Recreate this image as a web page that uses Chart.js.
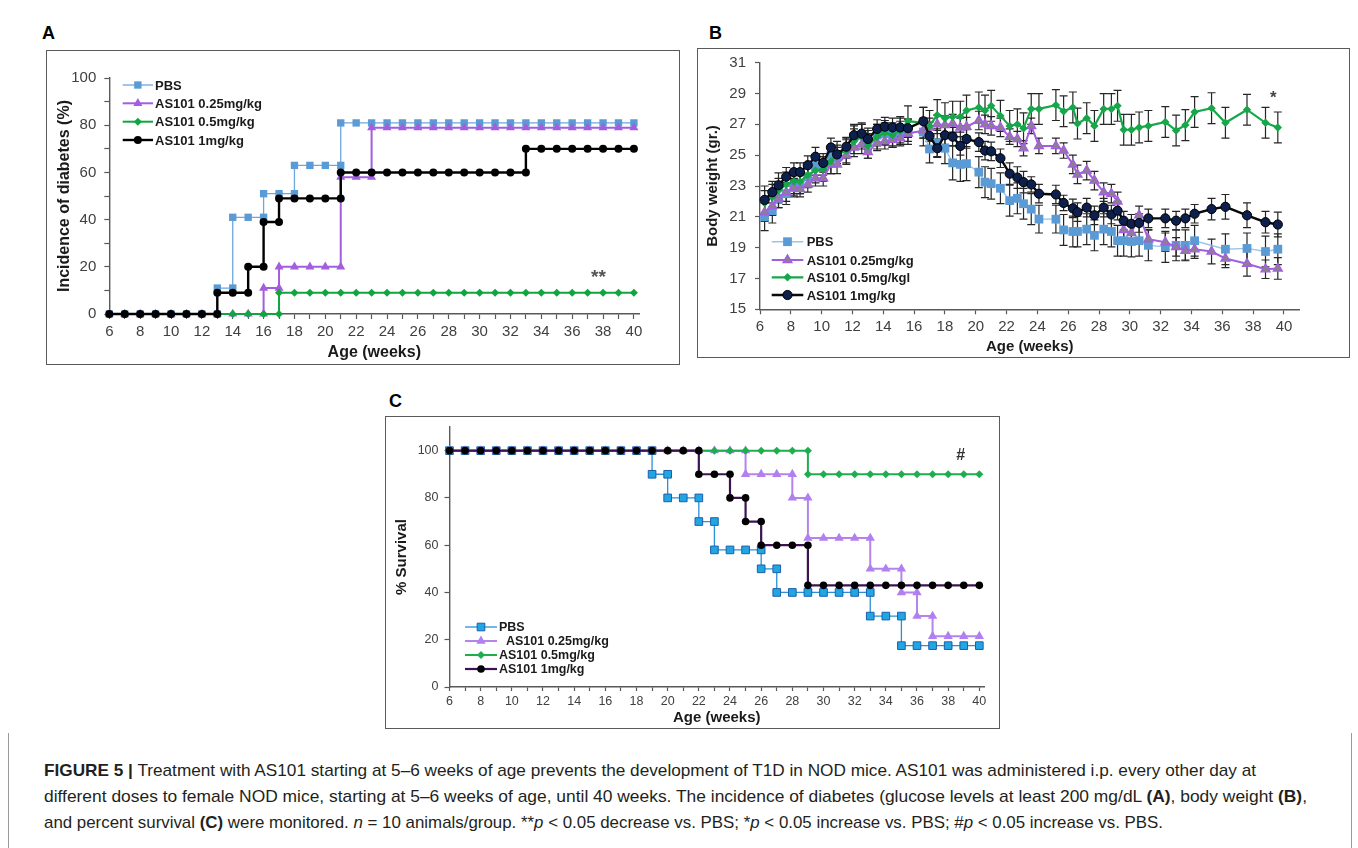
<!DOCTYPE html>
<html>
<head>
<meta charset="utf-8">
<script src="https://cdn.jsdelivr.net/npm/chart.js@4/dist/chart.umd.min.js"></script>
<style>
    html, body { margin: 0; padding: 0; background: #fff; }
    body { width: 1358px; height: 848px; position: relative; overflow: hidden; font-family: "Liberation Sans", Arial, sans-serif; }
    .box { position: absolute; border: 1.5px solid #5a5a5a; box-sizing: border-box; }
    .panel { position: absolute; font: bold 18px "Liberation Sans", Arial, sans-serif; color: #000; }
    canvas { position: absolute; }
    .frame { position: absolute; border-left: 1.5px solid #9a9a9a; border-right: 1.5px solid #9a9a9a; box-sizing: border-box; }
    .cap { position: absolute; left: 44px; font-size: 17px; line-height: 20px; color: #231f20; white-space: nowrap; transform-origin: 0 50%; }
</style>
</head>
<body>
<div class="frame" style="left:8px;top:733px;width:1344px;height:115px"></div>

<div class="panel" style="left:42px;top:23px">A</div>
<div class="box" style="left:46px;top:50px;width:634px;height:315px"></div>
<canvas id="chartA" width="628" height="312" style="left:48px;top:52px;width:628px;height:312px"></canvas>

<div class="panel" style="left:709px;top:23px">B</div>
<div class="box" style="left:697px;top:48px;width:653px;height:310px"></div>
<canvas id="chartB" width="645" height="319" style="left:700px;top:38px;width:645px;height:319px"></canvas>

<div class="panel" style="left:389px;top:391px">C</div>
<div class="box" style="left:385px;top:416px;width:615px;height:313px"></div>
<canvas id="chartC" width="608" height="320" style="left:388px;top:408px;width:608px;height:320px"></canvas>

<div class="cap" data-w="1212" style="top:761px"><b>FIGURE 5 |</b> Treatment with AS101 starting at 5–6 weeks of age prevents the development of T1D in NOD mice. AS101 was administered i.p. every other day at</div>
<div class="cap" data-w="1263" style="top:787px">different doses to female NOD mice, starting at 5–6 weeks of age, until 40 weeks. The incidence of diabetes (glucose levels at least 200 mg/dL <b>(A)</b>, body weight <b>(B)</b>,</div>
<div class="cap" data-w="1119" style="top:813px">and percent survival <b>(C)</b> were monitored. <i>n</i> = 10 animals/group. **<i>p</i> &lt; 0.05 decrease vs. PBS; *<i>p</i> &lt; 0.05 increase vs. PBS; #<i>p</i> &lt; 0.05 increase vs. PBS.</div>

<script>
// ---------- data ----------
const groupLabels = ['PBS', 'AS101 0.25mg/kg', 'AS101 0.5mg/kg', 'AS101 1mg/kg'];

// A: incidence of diabetes (%), step points repeated at each change
const pbsIncWeeks = [6, 7, 8, 9, 10, 11, 12, 13, 13, 14, 14, 15, 16, 16, 17, 18, 18, 19, 20, 21, 21, 22, 23, 24, 25, 26, 27, 28, 29, 30, 31, 32, 33, 34, 35, 36, 37, 38, 39, 40];
const pbsIncidence = [0, 0, 0, 0, 0, 0, 0, 0, 11, 11, 41, 41, 41, 51, 51, 51, 63, 63, 63, 63, 81, 81, 81, 81, 81, 81, 81, 81, 81, 81, 81, 81, 81, 81, 81, 81, 81, 81, 81, 81];
const lowIncWeeks = [6, 7, 8, 9, 10, 11, 12, 13, 14, 15, 16, 16, 17, 17, 18, 19, 20, 21, 21, 22, 23, 23, 24, 25, 26, 27, 28, 29, 30, 31, 32, 33, 34, 35, 36, 37, 38, 39, 40];
const lowIncidence = [0, 0, 0, 0, 0, 0, 0, 0, 0, 0, 0, 11, 11, 20, 20, 20, 20, 20, 58, 58, 58, 79, 79, 79, 79, 79, 79, 79, 79, 79, 79, 79, 79, 79, 79, 79, 79, 79, 79];
const midIncWeeks = [6, 7, 8, 9, 10, 11, 12, 13, 14, 15, 16, 17, 17, 18, 19, 20, 21, 22, 23, 24, 25, 26, 27, 28, 29, 30, 31, 32, 33, 34, 35, 36, 37, 38, 39, 40];
const midIncidence = [0, 0, 0, 0, 0, 0, 0, 0, 0, 0, 0, 0, 9, 9, 9, 9, 9, 9, 9, 9, 9, 9, 9, 9, 9, 9, 9, 9, 9, 9, 9, 9, 9, 9, 9, 9];
const highIncWeeks = [6, 7, 8, 9, 10, 11, 12, 13, 13, 14, 15, 15, 16, 16, 17, 17, 18, 19, 20, 21, 21, 22, 23, 24, 25, 26, 27, 28, 29, 30, 31, 32, 33, 33, 34, 35, 36, 37, 38, 39, 40];
const highIncidence = [0, 0, 0, 0, 0, 0, 0, 0, 9, 9, 9, 20, 20, 39, 39, 49, 49, 49, 49, 49, 60, 60, 60, 60, 60, 60, 60, 60, 60, 60, 60, 60, 60, 70, 70, 70, 70, 70, 70, 70, 70];

// B: body weight (gr.), mean and error (half bar)
const weeksB = [6.3, 6.8, 7.2, 7.7, 8.2, 8.6, 9.1, 9.6, 10.1, 10.6, 11.0, 11.6, 12.1, 12.6, 13.0, 13.6, 14.1, 14.6, 15.1, 15.6, 16.6, 17.0, 17.5, 18.0, 18.5, 19.0, 19.4, 20.2, 20.6, 21.0, 21.6, 22.2, 22.7, 23.1, 23.6, 24.1, 25.2, 25.7, 26.3, 26.6, 27.2, 27.7, 28.3, 28.8, 29.2, 29.6, 30.1, 30.6, 31.2, 32.3, 33.0, 33.6, 34.2, 35.3, 36.2, 37.6, 38.8, 39.6];
const pbsWeight = [21.0, 21.4, 22.2, 22.5, 22.9, 23.1, 23.6, 24.3, 24.3, 25.0, 24.9, 25.4, 26.2, 26.3, 25.9, 26.3, 26.4, 26.3, 26.5, 26.5, 26.5, 25.4, 25.8, 25.45, 24.5, 24.4, 24.45, 23.9, 23.25, 23.15, 22.85, 22.05, 22.2, 21.85, 21.5, 20.85, 20.85, 20.15, 20.05, 20.05, 20.2, 19.8, 20.2, 20.05, 19.45, 19.45, 19.4, 19.45, 19.15, 19.05, 19.15, 19.15, 19.45, null, 18.9, 18.95, 18.75, 18.9];
const lowWeight = [21.3, 21.7, 22.2, 22.6, 22.9, 22.8, 23.1, 23.5, 23.5, 24.4, 24.4, 25.0, 25.5, 25.7, 25.2, 25.8, 25.9, 26.0, 26.1, 26.4, 26.6, 26.8, 27.0, 26.95, 27.05, 26.8, 26.85, 27.25, 27.0, 26.9, 26.8, 26.2, 26.05, 25.45, 26.9, 25.6, 25.6, 25.3, 24.4, 23.75, 24.0, 23.35, 22.6, 22.5, 22.0, 20.15, 19.95, 21.1, 19.55, 19.35, 19.05, 18.8, 18.9, 18.75, 18.3, 17.95, 17.6, 17.65];
const midWeight = [21.9, 22.3, 22.7, 23.1, 23.3, 23.3, 23.7, 24.0, 24.1, 24.6, 25.1, 25.3, 25.9, 26.2, 25.6, 26.2, 26.45, 26.3, 26.6, 27.2, 27.1, 26.9, 27.6, 27.4, 27.5, 27.5, 27.9, 28.1, 27.9, 28.2, 27.55, 26.9, 27.0, 26.75, 28.0, 28.0, 28.25, 27.85, 28.1, 27.05, 27.4, 26.9, 28.0, 28.0, 28.2, 26.65, 26.65, 26.8, 26.9, 27.15, 26.6, 26.95, 27.8, 28.05, 27.1, 27.95, 27.1, 26.8];
const highWeight = [22.1, 22.6, 23.05, 23.6, 23.9, 23.9, 24.35, 24.9, 24.5, 25.5, 25.05, 25.55, 26.3, 26.4, 26.05, 26.7, 26.85, 26.8, 26.8, 26.75, 27.2, 26.25, 25.45, 26.3, 26.2, 25.6, 26.05, 25.85, 25.3, 25.25, 24.8, 23.8, 23.55, 23.25, 23.1, 22.5, 22.45, 21.9, 21.55, 21.3, 21.6, 21.1, 21.6, 21.15, 21.4, 20.75, 20.55, 20.6, 20.9, 20.9, 20.75, 20.9, 21.2, 21.5, 21.65, 21.1, 20.65, 20.5];
const pbsWeightErr = [0.9, 0.8, 0.6, 0.7, 0.6, 0.6, 0.6, 0.6, 0.6, 0.6, 0.6, 0.6, 0.7, 0.7, 0.7, 0.7, 0.7, 0.7, 0.7, 0.8, 0.9, 0.9, 0.9, 1.0, 1.1, 1.1, 1.1, 1.0, 1.0, 1.0, 1.0, 1.0, 1.0, 1.0, 1.0, 0.9, 0.9, 1.0, 1.0, 1.0, 1.0, 1.0, 1.0, 1.0, 1.0, 1.0, 1.0, 1.0, 1.0, 1.0, 1.0, 1.0, 1.0, null, 1.0, 1.0, 1.0, 1.0];
const lowWeightErr = [0.6, 0.6, 0.6, 0.6, 0.5, 0.5, 0.5, 0.5, 0.5, 0.6, 0.6, 0.6, 0.6, 0.6, 0.4, 0.5, 0.5, 0.5, 0.5, 0.5, 0.5, 0.6, 0.6, 0.6, 0.6, 0.6, 0.6, 0.6, 0.6, 0.6, 0.6, 0.5, 0.5, 0.5, 0.5, 0.5, 0.5, 0.5, 0.6, 0.6, 0.6, 0.6, 0.6, 0.6, 0.6, 0.6, 0.6, 0.6, 0.6, 0.6, 0.6, 0.6, 0.6, 0.8, 0.6, 0.8, 0.6, 0.7];
const midWeightErr = [0.8, 0.8, 0.8, 0.8, 0.8, 0.8, 0.8, 0.8, 0.8, 0.8, 0.8, 0.8, 0.8, 0.8, 0.8, 0.8, 0.8, 0.8, 0.9, 1.0, 1.0, 1.0, 1.0, 1.0, 1.0, 1.0, 1.0, 1.0, 1.0, 1.0, 1.0, 1.0, 1.0, 1.0, 1.0, 1.0, 1.0, 1.0, 1.0, 1.0, 1.0, 1.0, 1.0, 1.0, 1.0, 1.0, 1.0, 1.0, 1.0, 1.0, 1.0, 1.0, 1.0, 1.0, 1.0, 1.0, 1.0, 1.0];
const highWeightErr = [0.9, 0.7, 0.8, 0.6, 0.6, 0.6, 0.6, 0.6, 0.6, 0.6, 0.6, 0.6, 0.7, 0.7, 0.7, 0.6, 0.6, 0.6, 0.6, 0.6, 0.9, 0.9, 0.6, 0.6, 0.6, 0.6, 0.6, 0.6, 0.6, 0.6, 0.6, 0.7, 0.7, 0.7, 0.5, 0.6, 0.6, 0.5, 0.6, 0.6, 0.6, 0.6, 0.6, 0.6, 0.6, 0.6, 0.6, 0.6, 0.6, 0.6, 0.6, 0.6, 0.6, 0.7, 0.8, 0.8, 0.7, 0.8];

// C: % survival, step points repeated at each change
const pbsSurvWeeks = [6, 7, 8, 9, 10, 11, 12, 13, 14, 15, 16, 17, 18, 19, 19, 20, 20, 21, 22, 22, 23, 23, 24, 25, 26, 26, 27, 27, 28, 29, 30, 31, 32, 33, 33, 34, 35, 35, 36, 37, 38, 39, 40];
const pbsSurvival = [100, 100, 100, 100, 100, 100, 100, 100, 100, 100, 100, 100, 100, 100, 90, 90, 80, 80, 80, 70, 70, 58, 58, 58, 58, 50, 50, 40, 40, 40, 40, 40, 40, 40, 30, 30, 30, 17.5, 17.5, 17.5, 17.5, 17.5, 17.5];
const lowSurvWeeks = [6, 7, 8, 9, 10, 11, 12, 13, 14, 15, 16, 17, 18, 19, 20, 21, 22, 23, 24, 25, 25, 26, 27, 28, 28, 29, 29, 30, 31, 32, 33, 33, 34, 35, 35, 36, 36, 37, 37, 38, 39, 40];
const lowSurvival = [100, 100, 100, 100, 100, 100, 100, 100, 100, 100, 100, 100, 100, 100, 100, 100, 100, 100, 100, 100, 90, 90, 90, 90, 80, 80, 63, 63, 63, 63, 63, 50, 50, 50, 40, 40, 30, 30, 21.5, 21.5, 21.5, 21.5];
const midSurvWeeks = [6, 7, 8, 9, 10, 11, 12, 13, 14, 15, 16, 17, 18, 19, 20, 21, 22, 23, 24, 25, 26, 27, 28, 29, 29, 30, 31, 32, 33, 34, 35, 36, 37, 38, 39, 40];
const midSurvival = [100, 100, 100, 100, 100, 100, 100, 100, 100, 100, 100, 100, 100, 100, 100, 100, 100, 100, 100, 100, 100, 100, 100, 100, 90, 90, 90, 90, 90, 90, 90, 90, 90, 90, 90, 90];
const highSurvWeeks = [6, 7, 8, 9, 10, 11, 12, 13, 14, 15, 16, 17, 18, 19, 20, 21, 22, 22, 23, 24, 24, 25, 25, 26, 26, 27, 28, 29, 29, 30, 31, 32, 33, 34, 35, 36, 37, 38, 39, 40];
const highSurvival = [100, 100, 100, 100, 100, 100, 100, 100, 100, 100, 100, 100, 100, 100, 100, 100, 100, 90, 90, 90, 80, 80, 70, 70, 60, 60, 60, 60, 43, 43, 43, 43, 43, 43, 43, 43, 43, 43, 43, 43];

// significance marks: [text, week, value]
const markA = ['**', 37.7, 15.5];
const markB = ['*', 39.3, 28.7];
const markC = ['#', 38.8, 98];

// ---------- helpers ----------
const SANS = '"Liberation Sans", Arial, sans-serif';
const AXIS = '#595959';
const TICK_TEXT = '#404040';

function pairs(xs, ys) {
    return xs.map((x, i) => ({ x: x, y: ys[i] }));
}

function tickList(from, to, step) {
    const t = [];
    for (let v = from; v <= to + 1e-9; v += step) t.push({ value: v });
    return t;
}

function series(label, xs, ys, look) {
    return {
        label: label,
        data: pairs(xs, ys),
        borderColor: look.line,
        borderWidth: look.width,
        pointStyle: look.style,
        pointRadius: look.r,
        pointBackgroundColor: look.fill,
        pointBorderColor: look.edge || look.fill,
        pointBorderWidth: look.edgeWidth || 0,
        tension: 0,
        clip: false,
        spanGaps: true,
        order: look.order,
        errors: look.errors
    };
}

function axis(o) {
    return {
        type: 'linear',
        min: o.min,
        max: o.max,
        afterBuildTicks: (s) => { s.ticks = tickList(o.from, o.to, o.step); },
        afterFit: (s) => {
            if (s.isHorizontal()) s.height = o.size; else s.width = o.size;
        },
        ticks: {
            autoSkip: false, maxRotation: 0, padding: o.pad, color: TICK_TEXT,
            font: { family: SANS, size: o.tickSize },
            callback: (v) => (o.labelEvery && Math.round(v) % o.labelEvery !== 0) ? '' : v
        },
        grid: { display: true, drawOnChartArea: false, drawTicks: true, tickLength: o.tickLen, tickColor: AXIS, tickWidth: 1.2 },
        border: { display: true, color: AXIS, width: 1.4 },
        title: { display: true, text: o.title, color: '#1a1a1a', padding: 0, font: { family: SANS, size: o.titleSize, weight: 'bold' } }
    };
}

function drawMarker(ctx, ds, x, y) {
    ctx.fillStyle = ds.pointBackgroundColor;
    ctx.strokeStyle = ds.pointBorderColor;
    ctx.lineWidth = ds.pointBorderWidth;
    Chart.helpers.drawPoint(ctx, { pointStyle: ds.pointStyle, radius: ds.pointRadius, rotation: 0, borderWidth: ds.pointBorderWidth }, x, y);
}

// error bars under the series
const errorBars = {
    id: 'errorBars',
    beforeDatasetsDraw(chart, args, opts) {
        const { ctx, scales: { x, y } } = chart;
        ctx.save();
        ctx.strokeStyle = opts.color || '#222';
        ctx.lineWidth = opts.width || 1.2;
        chart.data.datasets.forEach((ds) => {
            if (!ds.errors) return;
            ds.data.forEach((p, i) => {
                const e = ds.errors[i];
                if (p.y == null || !e) return;
                const px = x.getPixelForValue(p.x);
                const top = y.getPixelForValue(p.y + e);
                const bot = y.getPixelForValue(p.y - e);
                const c = opts.cap || 4;
                ctx.beginPath();
                ctx.moveTo(px, top); ctx.lineTo(px, bot);
                ctx.moveTo(px - c, top); ctx.lineTo(px + c, top);
                ctx.moveTo(px - c, bot); ctx.lineTo(px + c, bot);
                ctx.stroke();
            });
        });
        ctx.restore();
    }
};

// legend drawn inside the plot, like the original figure
const panelLegend = {
    id: 'panelLegend',
    afterDraw(chart, args, opts) {
        if (!opts.rows) return;
        const ctx = chart.ctx;
        ctx.save();
        chart.data.datasets.forEach((ds, i) => {
            const y = opts.rows[i];
            ctx.strokeStyle = ds.borderColor;
            ctx.lineWidth = ds.borderWidth;
            ctx.beginPath();
            ctx.moveTo(opts.x0, y);
            ctx.lineTo(opts.x1, y);
            ctx.stroke();
            drawMarker(ctx, ds, (opts.x0 + opts.x1) / 2, y);
            ctx.fillStyle = '#1a1a1a';
            ctx.font = opts.font;
            ctx.textBaseline = 'middle';
            ctx.textAlign = 'left';
            ctx.fillText(opts.labels ? opts.labels[i] : ds.label, opts.textX, y + 1);
        });
        ctx.restore();
    }
};

const sigMark = {
    id: 'sigMark',
    afterDraw(chart, args, opts) {
        if (!opts.mark) return;
        const { ctx, scales: { x, y } } = chart;
        ctx.save();
        ctx.fillStyle = opts.color;
        ctx.font = opts.font;
        ctx.textAlign = 'center';
        ctx.textBaseline = 'middle';
        ctx.fillText(opts.mark[0], x.getPixelForValue(opts.mark[1]), y.getPixelForValue(opts.mark[2]));
        ctx.restore();
    }
};

Chart.register(errorBars, panelLegend, sigMark);

function baseOptions(padding, plugins, scales) {
    return {
        responsive: false,
        animation: false,
        devicePixelRatio: 1,
        layout: { padding: padding },
        plugins: Object.assign({ legend: { display: false }, tooltip: { enabled: false } }, plugins),
        scales: scales
    };
}

// ---------- A ----------
new Chart(document.getElementById('chartA'), {
    type: 'line',
    data: {
        datasets: [
            series(groupLabels[0], pbsIncWeeks, pbsIncidence, { line: '#6fa6dc', width: 1.3, style: 'rect', r: 5.2, fill: '#5b9bd5', order: 3 }),
            series(groupLabels[1], lowIncWeeks, lowIncidence, { line: '#a35ddf', width: 2, style: 'triangle', r: 5.2, fill: '#a35ddf', order: 2 }),
            series(groupLabels[2], midIncWeeks, midIncidence, { line: '#10a53f', width: 2, style: 'rectRot', r: 4, fill: '#10a53f', order: 1 }),
            series(groupLabels[3], highIncWeeks, highIncidence, { line: '#000000', width: 2.4, style: 'circle', r: 4, fill: '#000000', order: 0 })
        ]
    },
    options: baseOptions(
        { left: 7, right: 36.7, top: 26.1, bottom: 1.7 },
        {
            panelLegend: { rows: [33, 51.3, 69.7, 88], x0: 74.7, x1: 105, textX: 107, font: 'bold 13px ' + SANS },
            sigMark: { mark: markA, color: '#555', font: 'bold 19px ' + SANS }
        },
        {
            x: axis({ min: 6, max: 40.35, from: 6, to: 40, step: 1, labelEvery: 2, size: 48.3, pad: 4, tickLen: 5, tickSize: 15, title: 'Age (weeks)', titleSize: 16 }),
            y: axis({ min: 0, max: 100, from: 0, to: 100, step: 10, labelEvery: 20, size: 54.3, pad: 8, tickLen: 5, tickSize: 15, title: 'Incidence of diabetes (%)', titleSize: 16 })
        }
    )
});

// ---------- B ----------
new Chart(document.getElementById('chartB'), {
    type: 'line',
    data: {
        datasets: [
            series(groupLabels[0], weeksB, pbsWeight, { line: '#9cc3e8', width: 1.4, style: 'rect', r: 6.2, fill: '#5b9bd5', order: 3, errors: pbsWeightErr }),
            series(groupLabels[1], weeksB, lowWeight, { line: '#a35ee0', width: 2, style: 'triangle', r: 5.2, fill: '#8a8090', edge: '#a35ee0', edgeWidth: 1.3, order: 2, errors: lowWeightErr }),
            series('AS101 0.5mg/kgl', weeksB, midWeight, { line: '#18a64a', width: 2.2, style: 'rectRot', r: 4.2, fill: '#18a64a', order: 1, errors: midWeightErr }),
            series(groupLabels[3], weeksB, highWeight, { line: '#0a0a0a', width: 2.4, style: 'circle', r: 4.6, fill: '#0c1f4d', edge: '#000', edgeWidth: 1, order: 0, errors: highWeightErr })
        ]
    },
    options: baseOptions(
        { left: 4.3, right: 45.6, top: 24.7, bottom: 1 },
        {
            errorBars: { color: '#262626', width: 1.2, cap: 4 },
            panelLegend: { rows: [203.7, 222, 239.3, 257], x0: 71.7, x1: 103.3, textX: 106.7, font: 'bold 13px ' + SANS },
            sigMark: { mark: markB, color: '#444', font: 'bold 17px ' + SANS }
        },
        {
            x: axis({ min: 6, max: 41, from: 6, to: 40, step: 2, size: 46.7, pad: 4, tickLen: 5, tickSize: 15, title: 'Age (weeks)', titleSize: 15 }),
            y: axis({ min: 15, max: 31, from: 15, to: 31, step: 2, size: 55.7, pad: 9, tickLen: 5, tickSize: 15, title: 'Body weight (gr.)', titleSize: 15 })
        }
    )
});

// ---------- C ----------
new Chart(document.getElementById('chartC'), {
    type: 'line',
    data: {
        datasets: [
            series(groupLabels[0], pbsSurvWeeks, pbsSurvival, { line: '#2b8fd7', width: 1.3, style: 'rect', r: 5.4, fill: '#22a6e2', edge: '#1a5fae', edgeWidth: 1, order: 3 }),
            series(groupLabels[1], lowSurvWeeks, lowSurvival, { line: '#b584ea', width: 2, style: 'triangle', r: 5.4, fill: '#b27ff0', order: 2 }),
            series(groupLabels[2], midSurvWeeks, midSurvival, { line: '#1fae4f', width: 2, style: 'rectRot', r: 4, fill: '#1fae4f', order: 1 }),
            series(groupLabels[3], highSurvWeeks, highSurvival, { line: '#3d1252', width: 2.2, style: 'circle', r: 3.8, fill: '#000000', order: 0 })
        ]
    },
    options: baseOptions(
        { left: 4.8, right: 12, top: 19, bottom: 1.3 },
        {
            panelLegend: { rows: [219, 233, 247, 261], x0: 77, x1: 109, textX: 111, font: 'bold 12.5px ' + SANS,
                labels: ['PBS', '  AS101 0.25mg/kg', 'AS101 0.5mg/kg', 'AS101 1mg/kg'] },
            sigMark: { mark: markC, color: '#333', font: 'bold 16px ' + SANS }
        },
        {
            x: axis({ min: 6, max: 40.3, from: 6, to: 40, step: 1, labelEvery: 2, size: 39.7, pad: 3, tickLen: 4, tickSize: 12.5, title: 'Age (weeks)', titleSize: 15 }),
            y: axis({ min: 0, max: 110, from: 0, to: 100, step: 20, size: 56.7, pad: 6, tickLen: 5, tickSize: 12.5, title: '% Survival', titleSize: 15 })
        }
    )
});

// stretch caption lines to the widths of the original layout
document.querySelectorAll('.cap').forEach((el) => {
    const w = el.getBoundingClientRect().width;
    el.style.transform = 'scaleX(' + (Number(el.dataset.w) / w) + ')';
});
</script>
</body>
</html>
